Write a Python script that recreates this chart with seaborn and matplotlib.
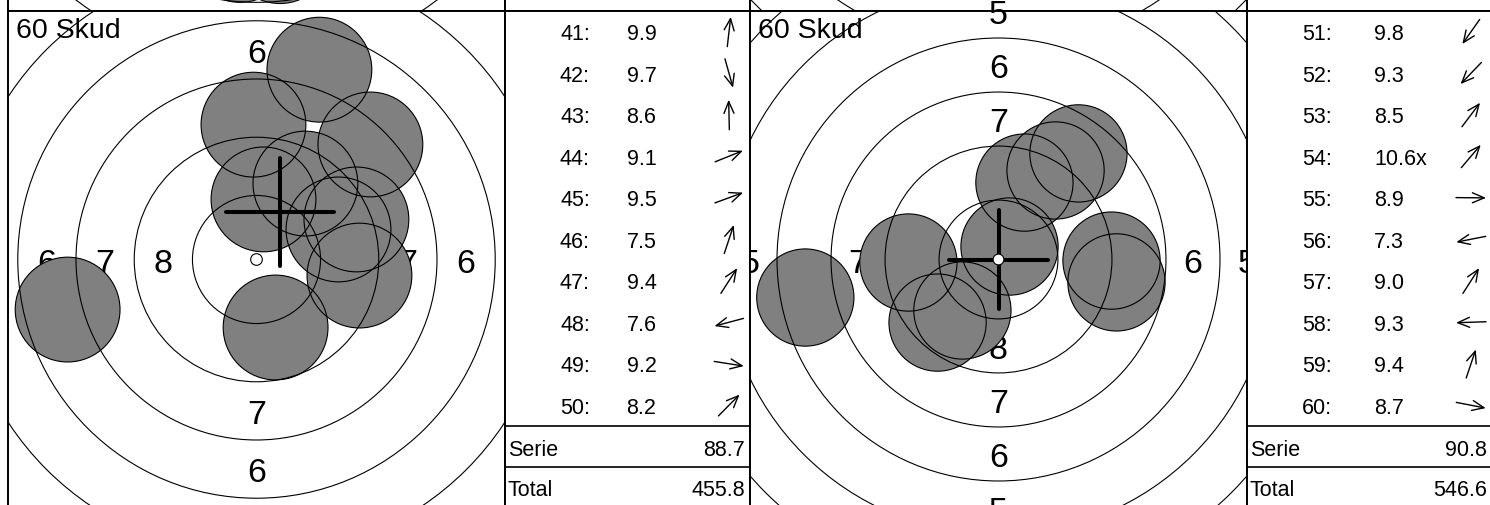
import numpy as np
import matplotlib.pyplot as plt
import seaborn as sns
from matplotlib.patches import Circle
from matplotlib.transforms import ScaledTranslation, Bbox, TransformedBbox

# shots 41-50: number, score text, position in mm from target centre (x right, y up)
shot_no_1 = [41, 42, 43, 44, 45, 46, 47, 48, 49, 50]
score_1 = ['9.9', '9.7', '8.6', '9.1', '9.5', '7.5', '9.4', '7.6', '9.2', '8.2']
shot_x_1 = [0.30, 0.82, -0.13, 4.29, 3.52, 2.70, 2.10, -8.11, 4.42, 4.89]
shot_y_1 = [2.58, -2.92, 5.79, 1.72, 1.29, 8.15, 3.26, -2.15, -0.69, 4.94]
serie_1 = '88.7'
total_1 = '455.8'
mpi_1 = (1.01, 2.04)

# shots 51-60
shot_no_2 = [51, 52, 53, 54, 55, 56, 57, 58, 59, 60]
score_2 = ['9.8', '9.3', '8.5', '10.6x', '8.9', '7.3', '9.0', '9.3', '9.4', '8.7']
shot_x_2 = [-1.67, -2.82, 3.70, 0.51, 5.23, -8.94, 2.64, -4.17, 1.20, 5.46]
shot_y_2 = [-2.36, -2.92, 4.91, 0.60, -0.05, -1.76, 4.12, -0.14, 3.56, -1.06]
serie_2 = '90.8'
total_2 = '546.6'
mpi_2 = (0.0, 0.0)

# zoom of each target window (half width, mm)
view_half = [10.67, 11.5]

# the row above, only its bottom edge is on screen
prev_view_half = [10.62, 11.05]
prev_shot_x = [-0.70, 1.00]
prev_shot_y = [-8.00, -8.05]

# air rifle target, ring 10 .. ring 1 (radius, mm)
ring_radius = [0.25, 2.75, 5.25, 7.75, 10.25, 12.75, 15.25, 17.75, 20.25, 22.75]
ring_label = [1, 2, 3, 4, 5, 6, 7, 8]
pellet_radius = 2.25

sns.set_theme(style='white')
plt.rcParams['font.family'] = ['Liberation Sans', 'DejaVu Sans']

W, H, DPI = 1490, 506, 100
TGT = 497   # target window size, px
TAB = 245   # score table width, px
TOP = 12    # top of current row, px

fig = plt.figure(figsize=(W / DPI, H / DPI), dpi=DPI)


def rect(x, y, w, h):
    return [x / W, 1 - (y + h) / H, w / W, h / H]


def frame(ax, z):
    ax.set_zorder(z)
    ax.set_xticks([])
    ax.set_yticks([])
    ax.set_facecolor('white')
    for s in ax.spines.values():
        s.set_color('black')
        s.set_linewidth(1.4)


def draw_target(ax, half, xs, ys, mpi=None, numbers=True):
    ax.set_xlim(-half, half)
    ax.set_ylim(-half, half)
    for r in ring_radius[1:]:
        ax.add_patch(Circle((0, 0), r, fill=False, ec='black', lw=0.8, zorder=3))
    if numbers:
        fs = 24.5
        off = ScaledTranslation(0, -0.358 * fs / 72, fig.dpi_scale_trans)
        # numbers may spill over the top/bottom edge, not the sides
        clip = TransformedBbox(Bbox([[0, -0.5], [1, 1.5]]), ax.transAxes)
        for k in ring_label:
            m = (ring_radius[9 - k] + ring_radius[10 - k]) / 2
            if m > half + 0.3:
                continue
            for x, y in [(0, m), (0, -m), (-m, 0), (m, 0)]:
                t = ax.text(x, y, str(k), ha='center', va='baseline', fontsize=fs,
                            color='black', transform=ax.transData + off, zorder=1,
                            clip_on=True)
                t.set_clip_path(None)
                t.set_clip_box(clip)
        ax.text(7.5 / TGT, 1 - 26.5 / TGT, '60 Skud', transform=ax.transAxes,
                fontsize=20.5, color='black', ha='left', va='baseline', zorder=1)
    if len(xs):
        ppm = TGT / (2 * half)
        d_pt = 2 * pellet_radius * ppm * 72 / DPI
        sns.scatterplot(x=xs, y=ys, s=d_pt ** 2, color='#808080', linewidth=0,
                        edgecolor='none', legend=False, ax=ax, zorder=2)
        for x, y in zip(xs, ys):
            ax.add_patch(Circle((x, y), pellet_radius, fill=False, ec='black',
                                lw=0.8, zorder=3))
    if mpi is not None:
        h = 2.3
        kw = dict(color='black', lw=2.9, solid_capstyle='round', zorder=5)
        ax.plot([mpi[0] - h, mpi[0] + h], [mpi[1], mpi[1]], **kw)
        ax.plot([mpi[0], mpi[0]], [mpi[1] - h, mpi[1] + h], **kw)
    ax.add_patch(Circle((0, 0), ring_radius[0], fc='white', ec='black', lw=0.8, zorder=6))
    ax.set_xlim(-half, half)
    ax.set_ylim(-half, half)


def draw_table(ax, nos, scores, xs, ys, serie, total, score_x):
    ax.set_xlim(0, TAB)
    ax.set_ylim(TGT, 0)
    fs = 15.5
    dy = 0.358 * fs * DPI / 72
    L = 30
    for i, (n, sc, x, y) in enumerate(zip(nos, scores, xs, ys)):
        yc = 20.75 + 41.5 * i
        ax.text(85, yc + dy, f'{n}:', ha='right', va='baseline', fontsize=fs, color='black')
        ax.text(score_x, yc + dy, sc, ha='left', va='baseline', fontsize=fs, color='black')
        # arrow points the way the shot lies from the centre
        ux, uy = np.array([x, y]) / np.hypot(x, y)
        tail = (224 - ux * L / 2, yc + uy * L / 2)
        head = (224 + ux * L / 2, yc - uy * L / 2)
        ax.annotate('', xy=head, xytext=tail,
                    arrowprops=dict(arrowstyle='->,head_length=0.85,head_width=0.36',
                                    lw=1.0, color='black', shrinkA=0, shrinkB=0,
                                    mutation_scale=10))
    ax.axhline(415, color='black', lw=1.2)
    ax.axhline(456, color='black', lw=1.2)
    ax.text(3, 436 + dy, 'Serie', ha='left', va='baseline', fontsize=fs, color='black')
    ax.text(240, 436 + dy, serie, ha='right', va='baseline', fontsize=fs, color='black')
    ax.text(3, 476 + dy, 'Total', ha='left', va='baseline', fontsize=fs, color='black')
    ax.text(240, 476 + dy, total, ha='right', va='baseline', fontsize=fs, color='black')


# row above (cut off by the screen)
prev_shots = [(prev_shot_x, prev_shot_y), ([], [])]
for j in range(2):
    x0 = 8 + j * (TGT + TAB)
    axp = fig.add_axes(rect(x0, TOP - TGT, TGT, TGT))
    frame(axp, j * 2)
    draw_target(axp, prev_view_half[j], *prev_shots[j], numbers=False)
    axt = fig.add_axes(rect(x0 + TGT, TOP - TGT, TAB, TGT))
    frame(axt, j * 2 + 1)

# current row
rows = [
    (shot_no_1, score_1, shot_x_1, shot_y_1, serie_1, total_1, mpi_1, 121.5),
    (shot_no_2, score_2, shot_x_2, shot_y_2, serie_2, total_2, mpi_2, 127),
]
for j, (nos, scores, xs, ys, serie, total, mpi, score_x) in enumerate(rows):
    x0 = 8 + j * (TGT + TAB)
    ax = fig.add_axes(rect(x0, TOP, TGT, TGT))
    frame(ax, 10 + j * 2)
    draw_target(ax, view_half[j], xs, ys, mpi=mpi)
    axt = fig.add_axes(rect(x0 + TGT, TOP, TAB, TGT))
    frame(axt, 11 + j * 2)
    draw_table(axt, nos, scores, xs, ys, serie, total, score_x)

fig.savefig('out.png', dpi=DPI, facecolor='white')
